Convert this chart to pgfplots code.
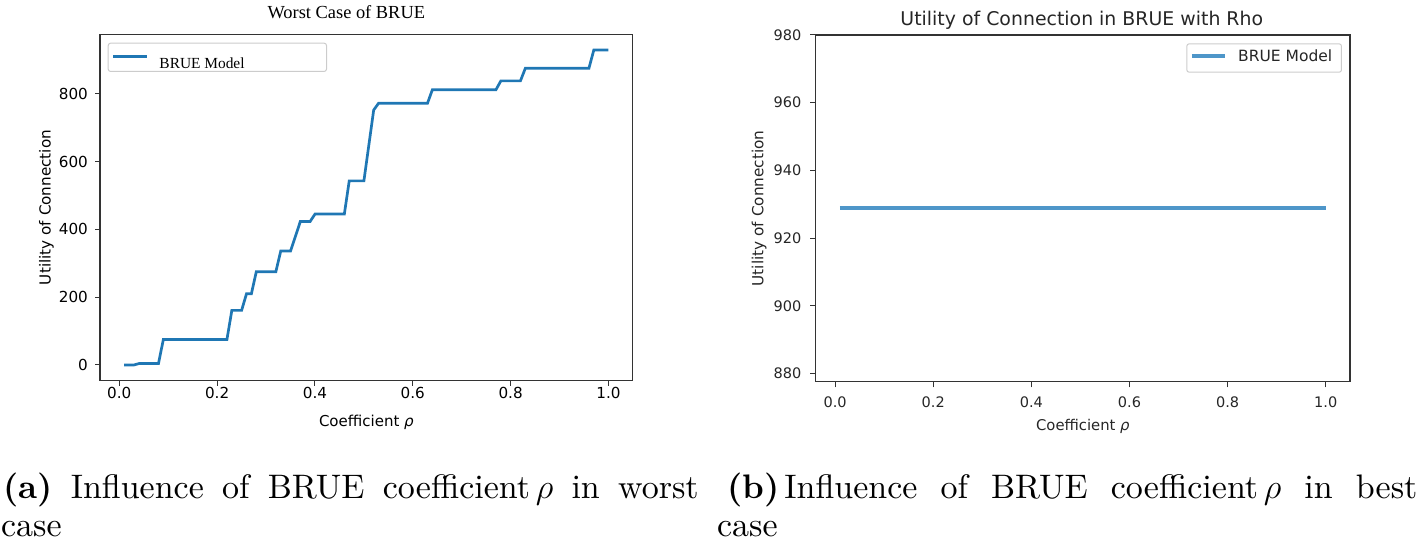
\documentclass[border=0pt]{standalone}
\usepackage{pgfplots}
\pgfplotsset{compat=1.18}
\usepackage{fontspec}
\newfontfamily\dv{DejaVu Sans}
\newfontfamily\lser{Liberation Serif}
\newfontfamily\capfont{lmroman10-regular}[Extension=.otf, BoldFont=lmroman10-bold]
\definecolor{mplblue}{HTML}{1F77B4}
\definecolor{ltblue}{RGB}{78,150,201}
\definecolor{axgray}{HTML}{333333}
\begin{document}
\begin{tikzpicture}
\useasboundingbox (0,0) rectangle (709.5pt,272.5pt);
% ---------------- left: worst case
\begin{axis}[
 at={(50pt,82.15pt)}, anchor=south west,
 scale only axis, width=266.35pt, height=173.2pt,
 xmin=-0.0395, xmax=1.0495, ymin=-46.45, ymax=975.45,
 axis line style={axgray, line width=0.6pt},
 tick align=outside, tick style={axgray, line width=0.5pt}, major tick length=2.5pt,
 xtick={0,0.2,0.4,0.6,0.8,1.0}, xticklabels={0.0,0.2,0.4,0.6,0.8,1.0},
 ytick={0,200,400,600,800}, yticklabels={0,200,400,600,800},
 xtick pos=bottom, ytick pos=left,
 ticklabel style={font=\dv\fontsize{7.6pt}{9pt}\selectfont, text=black},
 xticklabel style={anchor=base, inner sep=0pt, yshift=-6.6pt},
 yticklabel style={anchor=east, inner sep=0pt, xshift=-3.35pt},
 xlabel={Coefficient \textit{ρ}},
 xlabel style={at={(axis description cs:0.5,-0.1308)}, anchor=base, inner sep=0pt, font=\dv\fontsize{7.5pt}{9pt}\selectfont},
 ylabel={Utility of Connection},
 ylabel style={at={(axis description cs:-0.0925,0.5)}, anchor=base, inner sep=0pt, font=\dv\fontsize{7.6pt}{9pt}\selectfont},
 every axis title shift=0pt,
 title={Worst Case of BRUE},
 title style={at={(axis description cs:0.4624,1.0442)}, anchor=base, inner sep=0pt, font=\lser\fontsize{9.2pt}{11pt}\selectfont},
 legend style={at={(axis description cs:0.01445,0.9758)}, anchor=north west,
   draw=black!20, line width=0.5pt, rounded corners=1.2pt, fill=white,
   inner sep=0pt, column sep=0pt, row sep=0pt,
   nodes={inner sep=0pt, text height=6.5pt, text depth=7.65pt},
   cells={anchor=base west},
   font=\lser\fontsize{7.7pt}{9pt}\selectfont},
 legend image code/.code={\draw[#1] (2.65pt,0pt) -- (19.65pt,0pt); \path[draw=none,fill=none] (0pt,0pt) -- (25.65pt,0pt);},
]
\addplot[mplblue, line width=1.35pt] coordinates {
(0.01,0) (0.02,0) (0.03,0) (0.04,4) (0.08,4) (0.09,75) (0.22,75) (0.23,161)
(0.25,161) (0.26,210) (0.27,210) (0.28,275) (0.32,275) (0.33,336) (0.35,336)
(0.37,423) (0.39,423) (0.40,445) (0.46,445) (0.47,543) (0.50,543) (0.52,752)
(0.53,772) (0.63,772) (0.64,812) (0.77,812) (0.78,838) (0.82,838) (0.83,875)
(0.96,875) (0.97,929) (1.00,929)};
\addlegendentry{\makebox[83.5pt][l]{\raisebox{-6.3pt}{BRUE Model}}}
\end{axis}
% ---------------- right: best case
\begin{axis}[
 at={(407.85pt,81.65pt)}, anchor=south west,
 scale only axis, width=267.15pt, height=173.35pt,
 xmin=-0.0395, xmax=1.0495, ymin=877.6, ymax=980,
 axis line style={axgray, line width=0.6pt},
 tick align=outside, tick style={axgray, line width=0.5pt}, major tick length=2.8pt,
 xtick={0,0.2,0.4,0.6,0.8,1.0}, xticklabels={0.0,0.2,0.4,0.6,0.8,1.0},
 ytick={880,900,920,940,960,980}, yticklabels={880,900,920,940,960,980},
 xtick pos=bottom, ytick pos=left,
 ticklabel style={font=\dv\fontsize{7.25pt}{9pt}\selectfont, text=black!85},
 xticklabel style={anchor=base, inner sep=0pt, yshift=-10.1pt},
 yticklabel style={anchor=east, inner sep=0pt, xshift=-4.2pt},
 xlabel={Coefficient \textit{ρ}},
 xlabel style={at={(axis description cs:0.5,-0.1422)}, anchor=base, inner sep=0pt, font=\dv\fontsize{7.4pt}{9pt}\selectfont, text=black!85},
 ylabel={Utility of Connection},
 ylabel style={at={(axis description cs:-0.098,0.5)}, anchor=base, inner sep=0pt, font=\dv\fontsize{7.65pt}{9pt}\selectfont, text=black!85},
 every axis title shift=0pt,
 title={Utility of Connection in BRUE with Rho},
 title style={at={(axis description cs:0.498,1.0288)}, anchor=base, inner sep=0pt, font=\dv\fontsize{9.45pt}{11pt}\selectfont, text=black!85},
 legend style={at={(axis description cs:0.985,0.976)}, anchor=north east,
   draw=black!20, line width=0.5pt, rounded corners=1.2pt, fill=white,
   inner sep=0pt, column sep=0pt, row sep=0pt,
   nodes={inner sep=0pt, text height=6.2pt, text depth=8pt},
   cells={anchor=base west},
   font=\dv\fontsize{7.75pt}{9pt}\selectfont, text=black!85},
 legend image code/.code={\draw[#1] (2.5pt,0pt) -- (19.35pt,0pt); \path[draw=none,fill=none] (0pt,0pt) -- (25.7pt,0pt);},
]
\addplot[ltblue, line width=2pt] coordinates {
(0.01,929) (0.25,929) (0.50,929) (0.75,929) (1.00,929)};
\addlegendentry{\makebox[51.65pt][l]{\raisebox{-2.83pt}{BRUE Model}}}
\end{axis}
% ---------------- captions
\node[anchor=base west, inner sep=0pt] at (1.35pt,23.35pt)
  {\capfont\fontsize{17pt}{19pt}\selectfont\makebox[347.8pt][s]{\textbf{(a)} Influence of BRUE coefficient\,$\rho$ in worst}};
\node[anchor=base west, inner sep=0pt] at (0.35pt,4.15pt)
  {\capfont\fontsize{17pt}{19pt}\selectfont case};
\node[anchor=base west, inner sep=0pt] at (363.35pt,23.35pt)
  {\capfont\fontsize{17pt}{19pt}\selectfont\makebox[345.15pt][s]{\textbf{(b)}\kern0.15em Influence of BRUE coefficient\,$\rho$ in best}};
\node[anchor=base west, inner sep=0pt] at (358.35pt,4.15pt)
  {\capfont\fontsize{17pt}{19pt}\selectfont case};
\end{tikzpicture}
\end{document}
